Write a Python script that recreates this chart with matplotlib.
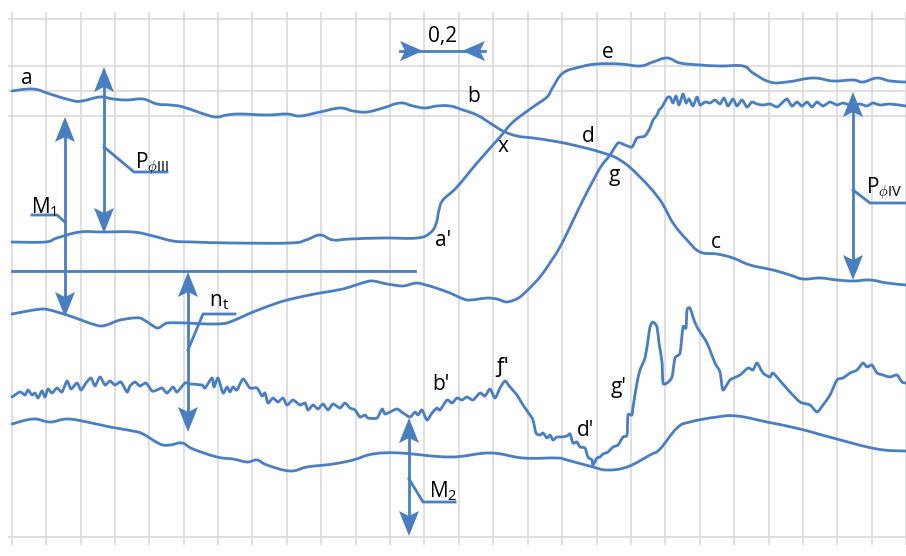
import matplotlib
matplotlib.use("Agg")
import matplotlib.pyplot as plt
import numpy as np
from matplotlib.patches import PathPatch
from matplotlib.path import Path

plt.rcParams["font.family"] = ["Open Sans", "DejaVu Sans"]
plt.rcParams["mathtext.fontset"] = "custom"
plt.rcParams["mathtext.rm"] = "Open Sans"
plt.rcParams["mathtext.it"] = "Open Sans:italic"

BLUE = "#4a7ec2"
GRID = "#dadada"

# oscillogram traces, (x, y) in screen units, y grows downward
trace_abc = [
    (12, 91), (33, 89), (50, 94), (72, 100.5), (82, 101), (100, 97), (113, 99),
    (127, 100), (143, 99), (157, 104), (170, 105), (183, 107), (207, 115),
    (217, 117), (227, 115), (240, 114), (267, 115), (287, 114), (300, 116),
    (320, 112), (340, 108), (353, 111), (367, 112), (383, 108), (400, 103),
    (413, 106), (425, 108), (437, 106), (450, 106), (463, 110), (477, 115),
    (490, 123), (503, 131), (517, 136), (533, 138), (553, 141), (573, 145),
    (600, 152), (620, 160), (640, 177), (660, 200), (673, 223), (687, 240),
    (700, 252), (717, 254), (733, 258), (750, 265), (773, 270), (790, 275),
    (803, 279), (820, 278), (837, 280), (853, 281), (870, 280), (887, 283),
    (906, 285),
]

trace_ae = [
    (12, 242), (45, 242), (57, 238), (80, 232), (103, 232), (133, 232),
    (153, 236), (173, 241), (193, 242), (233, 243), (290, 243), (306, 240),
    (320, 235), (333, 240), (350, 239), (383, 238), (417, 238), (430, 233),
    (436, 224), (439, 210), (443, 200), (457, 187), (477, 163), (500, 137),
    (513, 122), (533, 107), (547, 97), (553, 87), (563, 73), (580, 67),
    (597, 64), (620, 64), (640, 66), (653, 62), (667, 58), (680, 63),
    (700, 65), (720, 66), (743, 66), (753, 73), (770, 82), (787, 82),
    (813, 78), (833, 81), (853, 80), (863, 82), (877, 78), (890, 81),
    (906, 82),
]

trace_ng = [
    (12, 314), (43, 309), (67, 315), (100, 326), (120, 320), (140, 318),
    (157, 328), (167, 323), (187, 323), (207, 324), (227, 323), (253, 312),
    (280, 302), (300, 297), (320, 293), (343, 289), (370, 281), (387, 284),
    (403, 286), (417, 283), (433, 287), (450, 293), (467, 300), (487, 298),
    (497, 299), (507, 302), (520, 297), (540, 277), (560, 247), (583, 200),
    (600, 168), (610, 155), (618, 143), (625, 145), (632, 147), (637, 138),
    (645, 136), (650, 128), (653, 120), (657, 115), (659, 110), (662, 107),
    (667, 98), (670, 97), (673, 103), (676, 96), (679, 105), (683, 94),
    (686, 103), (689, 99), (693, 106), (697, 97), (700, 105), (705, 102),
    (710, 103), (715, 100), (720, 104), (724, 98), (728, 106), (733, 99),
    (737, 106), (742, 100), (747, 107), (752, 102), (757, 104), (763, 105),
    (770, 104), (777, 107), (782, 103), (787, 99), (792, 106), (797, 102),
    (802, 106), (807, 102), (812, 107), (817, 102), (823, 106), (830, 102),
    (837, 105), (843, 103), (853, 106), (860, 104), (867, 106), (873, 103),
    (880, 105), (890, 104), (906, 106),
]

trace_bfdg = [
    (12, 397), (20, 392), (25, 395), (28, 390), (32, 395), (35, 393),
    (38, 398), (42, 391), (45, 397), (48, 389), (52, 393), (57, 388),
    (62, 392), (67, 381), (71, 389), (77, 383), (81, 390), (86, 383),
    (91, 378), (95, 386), (100, 377), (105, 385), (110, 381), (115, 385),
    (121, 382), (127, 392), (130, 386), (135, 382), (140, 386), (146, 383),
    (152, 391), (157, 390), (162, 388), (167, 393), (173, 387), (177, 392),
    (185, 383), (190, 384), (202, 385), (205, 388), (212, 378), (214, 387),
    (218, 378), (223, 393), (227, 387), (230, 392), (233, 387), (237, 390),
    (243, 379), (250, 388), (257, 388), (262, 396), (265, 393), (268, 403),
    (273, 398), (278, 402), (283, 398), (287, 405), (293, 400), (300, 405),
    (305, 403), (308, 410), (313, 405), (318, 409), (323, 404), (328, 410),
    (333, 404), (340, 408), (345, 403), (350, 408), (355, 410), (360, 417),
    (365, 415), (368, 418), (377, 418), (382, 409), (385, 414), (390, 412),
    (397, 409), (403, 413), (410, 417), (415, 412), (418, 415), (422, 410),
    (427, 420), (432, 413), (437, 408), (440, 410), (447, 400), (452, 403),
    (457, 398), (462, 400), (467, 397), (473, 400), (480, 393), (485, 396),
    (490, 389), (495, 398), (500, 388), (505, 381), (510, 387), (517, 395),
    (523, 405), (530, 415), (533, 420), (536, 433), (540, 435), (543, 433),
    (547, 438), (550, 435), (553, 440), (557, 437), (562, 437), (567, 436),
    (570, 434), (573, 443), (577, 442), (580, 447), (585, 448), (588, 457),
    (592, 460), (593, 465), (597, 458), (600, 457), (603, 454), (608, 452),
    (613, 447), (618, 445), (623, 437), (627, 435), (628, 415), (632, 415),
    (633, 407), (637, 383), (640, 370), (645, 358), (648, 340), (650, 327),
    (653, 322), (657, 327), (659, 343), (662, 362), (663, 383), (667, 383),
    (672, 377), (675, 358), (680, 353), (683, 327), (686, 328), (687, 310),
    (690, 308), (693, 317), (697, 327), (707, 343), (715, 363), (720, 372),
    (723, 390), (730, 380), (740, 375), (748, 368), (753, 370), (757, 363),
    (763, 373), (770, 377), (773, 373), (782, 383), (790, 392), (800, 402),
    (810, 405), (817, 412), (823, 405), (830, 395), (837, 380), (843, 378),
    (850, 373), (857, 370), (863, 363), (867, 367), (872, 365), (877, 373),
    (883, 375), (890, 377), (897, 375), (902, 382), (906, 383),
]

trace_bottom = [
    (12, 424), (33, 419), (50, 422), (67, 419), (87, 422), (110, 427),
    (133, 431), (143, 434), (160, 444), (170, 445), (182, 443), (193, 449),
    (217, 457), (233, 459), (247, 462), (257, 460), (267, 465), (290, 471),
    (307, 467), (333, 464), (353, 460), (373, 454), (400, 453), (450, 457),
    (490, 453), (523, 458), (557, 458), (567, 460), (593, 467), (607, 470),
    (627, 467), (650, 455), (660, 449), (677, 428), (690, 422), (717, 417),
    (737, 416), (767, 422), (800, 429), (833, 438), (877, 449), (906, 451),
]

# zero line of the n_t trace
zero_line_x = [12, 415]
zero_line_y = 271

# double-headed measuring arrows: x, top tip, bottom tip
dim_arrows = {
    "P_III": (104, 67, 233),
    "M1": (65, 117, 317),
    "n_t": (188, 272, 432),
    "M2": (409, 418, 536),
    "P_IV": (853, 92, 280),
}

# leader lines from the arrows to their labels
leaders = {
    "P_III": [(104, 147), (134, 172), (167, 172)],
    "M1": [(65, 222), (57, 215), (32, 215)],
    "n_t": [(188, 350), (203, 314), (235, 314)],
    "M2": [(409, 479), (423, 502), (455, 502)],
    "P_IV": [(853, 190), (870, 203), (906, 203)],
}

labels_math = {
    "P_III": (135, 168, r"$\mathrm{P}_{\mathrm{\phi III}}$"),
    "M1": (31, 213, r"$\mathrm{M}_{1}$"),
    "n_t": (209, 306, r"$\mathrm{n}_{\mathrm{t}}$"),
    "M2": (429, 497, r"$\mathrm{M}_{2}$"),
    "P_IV": (866, 193, r"$\mathrm{P}_{\mathrm{\phi IV}}$"),
}

point_labels = [
    ("a", 27, 78), ("b", 474, 97), ("x", 503, 147), ("d", 588, 136),
    ("e", 608, 53), ("g", 614, 176), ("c", 716, 242), ("a'", 443, 241),
    ("b'", 441, 384), ("d'", 586, 431), ("g'", 619, 387),
]
# the f' mark uses the hooked glyph
hooked_label = ("ƒ'", 503, 367)

# time scale marker: one division = 0.2 s
scale_y = 51
scale_span = (400, 423, 462, 485)
scale_text = "0,2"

grid_x0, grid_step, grid_n = 11.7, 34.4, 27
grid_rows = [19, 66, 91, 116, 537]


def arrow_head(ax, tip, direction, length=25, half_width=10, notch=5):
    tip = np.asarray(tip, dtype=float)
    d = np.asarray(direction, dtype=float)
    d = d / np.hypot(*d)
    n = np.array([-d[1], d[0]])
    back = tip - d * length
    pts = [
        tip,
        back + n * half_width,
        tip - d * (length - notch),
        back - n * half_width,
    ]
    ax.fill([p[0] for p in pts], [p[1] for p in pts], color=BLUE, lw=0, zorder=5)


def smooth_path(pts, tension=0.5):
    # Catmull-Rom through the points, emitted as cubic Bezier segments
    p = np.array(pts, dtype=float)
    padded = np.vstack([p[0], p, p[-1]])
    verts = [p[0]]
    codes = [Path.MOVETO]
    k = tension / 3.0
    for i in range(1, len(padded) - 2):
        p0, p1, p2, p3 = padded[i - 1], padded[i], padded[i + 1], padded[i + 2]
        c1 = p1 + (p2 - p0) * k
        c2 = p2 - (p3 - p1) * k
        verts.extend([c1, c2, p2])
        codes.extend([Path.CURVE4] * 3)
    return Path(np.array(verts), codes)


def draw_trace(ax, pts, tension=0.5):
    patch = PathPatch(smooth_path(pts, tension), facecolor="none", edgecolor=BLUE,
                      lw=2.0, joinstyle="round", capstyle="round", zorder=3)
    ax.add_patch(patch)


fig = plt.figure(figsize=(9.06, 5.56), dpi=100)
ax = fig.add_axes([0, 0, 1, 1])
ax.set_xlim(0, 906)
ax.set_ylim(556, 0)
ax.axis("off")

# paper grid
gx = grid_x0 + grid_step * np.arange(grid_n)
ax.vlines(gx, 12, 545, color=GRID, lw=1.2, zorder=1)
ax.hlines(grid_rows, 8, 906, color=GRID, lw=1.2, zorder=1)

for tr in (trace_abc, trace_ae, trace_bottom):
    draw_trace(ax, tr, tension=0.6)
for tr in (trace_ng, trace_bfdg):
    draw_trace(ax, tr, tension=0.35)

ax.plot(zero_line_x, [zero_line_y, zero_line_y], color=BLUE, lw=2.0, zorder=3)

for key, (x, y_top, y_bot) in dim_arrows.items():
    ax.plot([x, x], [y_top + 15, y_bot - 15], color=BLUE, lw=2.0, zorder=4)
    arrow_head(ax, (x, y_top), (0, -1))
    arrow_head(ax, (x, y_bot), (0, 1))

for key, pts in leaders.items():
    arr = np.array(pts, dtype=float)
    ax.plot(arr[:, 0], arr[:, 1], color=BLUE, lw=2.0, zorder=4)

for key, (x, y, s) in labels_math.items():
    ax.text(x, y, s, fontsize=15, ha="left", va="baseline", color="black", zorder=6)

for s, x, y in point_labels:
    ax.text(x, y, s, fontsize=15, ha="center", va="center", color="black", zorder=6)

s, x, y = hooked_label
ax.text(x, y, s, fontsize=15, ha="center", va="center", color="black", zorder=6,
        family=["DejaVu Sans"])

x_left, tip_left, tip_right, x_right = scale_span
ax.plot([x_left, x_right], [scale_y, scale_y], color=BLUE, lw=2.0, zorder=4)
arrow_head(ax, (tip_left, scale_y), (1, 0), length=23)
arrow_head(ax, (tip_right, scale_y), (-1, 0), length=23)
ax.text((tip_left + tip_right) / 2, scale_y - 4, scale_text, fontsize=15,
        ha="center", va="bottom", color="black", zorder=6)

fig.savefig("out.png", dpi=100)
